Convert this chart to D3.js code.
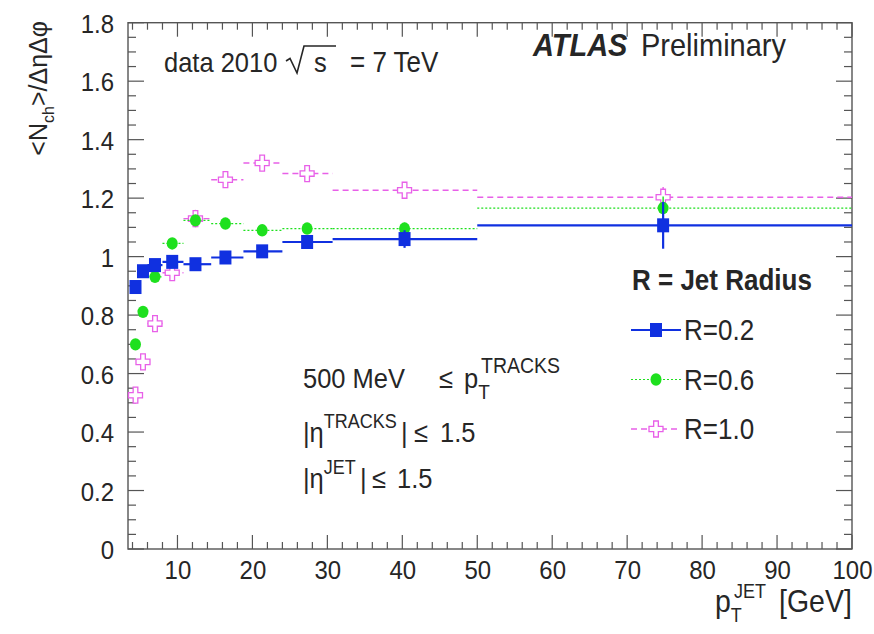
<!DOCTYPE html>
<html>
<head>
<meta charset="utf-8">
<script src="https://cdn.jsdelivr.net/npm/d3@7"></script>
<style>
  html, body { margin: 0; padding: 0; background: #fff; }
  svg text { font-family: "Liberation Sans", Arial, Helvetica, sans-serif; fill: #262626; }
</style>
</head>
<body>
<svg id="chart" width="874" height="634"></svg>
<script>
// ---- data ----
const xCenters = [4.4, 5.4, 7.0, 9.3, 12.4, 16.4, 21.3, 27.3, 40.3, 74.8];
const binLow   = [4.0, 5.0, 6.0, 8.0, 10.8, 14.5, 18.8, 24.0, 30.7, 50.0];
const binHigh  = [5.0, 6.0, 8.0, 10.8, 14.5, 18.8, 24.0, 30.7, 50.0, 100.0];

const seriesNames = ["R=0.2", "R=0.6", "R=1.0"];
const r02Values = [0.896, 0.950, 0.971, 0.982, 0.974, 0.997, 1.018, 1.050, 1.060, 1.107];
const r06Values = [0.700, 0.811, 0.931, 1.045, 1.124, 1.113, 1.090, 1.096, 1.096, 1.166];
const r10Values = [0.526, 0.640, 0.771, 0.945, 1.130, 1.263, 1.320, 1.284, 1.227, 1.203];
const r02Errors = [0.01, 0.01, 0.01, 0.01, 0.01, 0.01, 0.01, 0.015, 0.03, 0.08];
const r06Errors = [0.01, 0.01, 0.01, 0.01, 0.015, 0.01, 0.01, 0.01, 0.02, 0.04];
const r10Errors = [0.01, 0.01, 0.01, 0.015, 0.03, 0.015, 0.015, 0.015, 0.02, 0.035];

const xTickLabels = [10, 20, 30, 40, 50, 60, 70, 80, 90, 100];
const yTickLabels = [0, 0.2, 0.4, 0.6, 0.8, 1, 1.2, 1.4, 1.6, 1.8];

// ---- layout ----
const svg = d3.select("#chart");
const L = 128, R = 852, T = 22.7, B = 549;
const S = 1.1; // vertical stretch of the reference picture
const x = d3.scaleLinear().domain([3.4, 100]).range([L, R]);
const y = d3.scaleLinear().domain([0, 1.8]).range([B, T]);
const axisColor = "#555";
const textColor = "#262626";

function txt(px, py, size, opts = {}) {
  const t = svg.append("text")
    .attr("transform", `translate(${px},${py}) scale(1,${S})`)
    .style("font-size", size + "px");
  if (opts.anchor) t.attr("text-anchor", opts.anchor);
  if (opts.bold) t.style("font-weight", "bold");
  if (opts.italic) t.style("font-style", "italic");
  return t;
}

// frame
svg.append("rect").attr("x", L).attr("y", T).attr("width", R - L).attr("height", B - T)
  .attr("fill", "none").attr("stroke", axisColor).attr("stroke-width", 1.4);

// ticks
const xMinor = d3.range(4, 100.01, 2);
const yMinor = d3.range(0, 1.8001, 0.05);
const tickG = svg.append("g").attr("stroke", axisColor).attr("stroke-width", 1.2);
xMinor.forEach(v => {
  const major = Math.abs(v / 10 - Math.round(v / 10)) < 1e-6;
  const len = major ? 14 : 7;
  tickG.append("line").attr("x1", x(v)).attr("x2", x(v)).attr("y1", B).attr("y2", B - len);
  tickG.append("line").attr("x1", x(v)).attr("x2", x(v)).attr("y1", T).attr("y2", T + len);
});
yMinor.forEach(v => {
  const major = Math.abs(v / 0.2 - Math.round(v / 0.2)) < 1e-6;
  const len = major ? 16 : 8;
  tickG.append("line").attr("x1", L).attr("x2", L + len).attr("y1", y(v)).attr("y2", y(v));
  tickG.append("line").attr("x1", R).attr("x2", R - len).attr("y1", y(v)).attr("y2", y(v));
});

// tick labels via d3 axes (axis lines removed; frame ticks drawn above)
const xAxis = svg.append("g").attr("transform", `translate(0,${B})`)
  .call(d3.axisBottom(x).tickValues(xTickLabels).tickSize(0).tickPadding(10).tickFormat(d3.format("d")));
const yAxis = svg.append("g").attr("transform", `translate(${L},0)`)
  .call(d3.axisLeft(y).tickValues(yTickLabels).tickSize(0).tickPadding(14)
    .tickFormat(d => d === 0 ? "0" : (d === 1 ? "1" : d3.format(".1f")(d))));
[xAxis, yAxis].forEach(g => {
  g.select(".domain").remove();
  g.selectAll("text").style("font-size", "24px").attr("fill", textColor);
});
xAxis.selectAll("text").attr("transform", `scale(1,${S})`);
yAxis.selectAll("text").attr("transform", `scale(1,${S})`).attr("dy", "0.36em");

// ---- data drawing ----
const series = [
  { name: seriesNames[2], vals: r10Values, errs: r10Errors, color: "#e860e8", dash: "6,4", width: 1.4, marker: "cross" },
  { name: seriesNames[1], vals: r06Values, errs: r06Errors, color: "#1ee01e", dash: "2,2", width: 1.2, marker: "circle" },
  { name: seriesNames[0], vals: r02Values, errs: r02Errors, color: "#1030e0", dash: null, width: 2.2, marker: "square" }
];

function crossPath(w, h) {
  const a = w / 2, b = w / 6, c = h / 2, d = h / 6;
  return `M${-b},${-c}H${b}V${-d}H${a}V${d}H${b}V${c}H${-b}V${d}H${-a}V${-d}H${-b}Z`;
}
function drawMarker(g, m, cx, cy, color) {
  if (m === "square") {
    g.append("rect").attr("x", cx - 6).attr("y", cy - 7).attr("width", 12).attr("height", 14).attr("fill", color);
  } else if (m === "circle") {
    g.append("ellipse").attr("cx", cx).attr("cy", cy).attr("rx", 5.5).attr("ry", 6.2).attr("fill", color);
  } else {
    g.append("path").attr("d", crossPath(14, 16)).attr("transform", `translate(${cx},${cy})`)
      .attr("fill", "#fff").attr("stroke", color).attr("stroke-width", 1.3);
  }
}

series.forEach(s => {
  const g = svg.append("g");
  s.vals.forEach((v, i) => {
    g.append("line").attr("x1", x(binLow[i])).attr("x2", x(binHigh[i]))
      .attr("y1", y(v)).attr("y2", y(v)).attr("stroke", s.color).attr("stroke-width", s.width)
      .attr("stroke-dasharray", s.dash);
    g.append("line").attr("x1", x(xCenters[i])).attr("x2", x(xCenters[i]))
      .attr("y1", y(v - s.errs[i])).attr("y2", y(v + s.errs[i])).attr("stroke", s.color)
      .attr("stroke-width", Math.max(1.4, s.width));
  });
  s.vals.forEach((v, i) => drawMarker(g, s.marker, x(xCenters[i]), y(v), s.color));
});

// ---- legend ----
txt(632, 290, 26, { bold: true }).text("R = Jet Radius");
const legendRows = [series[2], series[1], series[0]];
legendRows.forEach((s, i) => {
  const cy = 330 + i * 49.5;
  const g = svg.append("g");
  g.append("line").attr("x1", 631).attr("x2", 681).attr("y1", cy).attr("y2", cy)
    .attr("stroke", s.color).attr("stroke-width", s.width).attr("stroke-dasharray", s.dash);
  drawMarker(g, s.marker, 656, cy, s.color);
  txt(684, cy + 10, 26).text(s.name);
});

// ---- header texts ----
txt(164, 72, 25.5).text("data 2010");
// square-root sign drawn as in ROOT's #sqrt
svg.append("path").attr("d", "M286,61 L290,58.5 L297,73 L304,46 L336,46")
  .attr("fill", "none").attr("stroke", textColor).attr("stroke-width", 1.6);
txt(314, 72, 25.5).text("s");
txt(350, 72, 26).text("= 7 TeV");

txt(533, 56, 29, { bold: true, italic: true }).text("ATLAS");
txt(641, 56, 29).text("Preliminary");

// ---- selection annotations ----
const a1 = txt(303, 388, 25.5);
a1.append("tspan").text("500 MeV");
a1.append("tspan").attr("x", 136).text("\u2264");
a1.append("tspan").attr("x", 161).text("p");
a1.append("tspan").attr("dy", 10).style("font-size", "19px").text("T");
a1.append("tspan").attr("x", 178).attr("dy", -24).style("font-size", "19.5px").text("TRACKS");

const a2 = txt(303, 442, 25.5);
a2.append("tspan").text("|\u03B7");
a2.append("tspan").attr("dy", -13).style("font-size", "18px").text("TRACKS");
a2.append("tspan").attr("x", 98).attr("dy", 13).text("|");
a2.append("tspan").attr("x", 111).text("\u2264");
a2.append("tspan").attr("x", 137).text("1.5");

const a3 = txt(303, 488, 25.5);
a3.append("tspan").text("|\u03B7");
a3.append("tspan").attr("dy", -13).style("font-size", "18px").text("JET");
a3.append("tspan").attr("x", 57).attr("dy", 13).text("|");
a3.append("tspan").attr("x", 69).text("\u2264");
a3.append("tspan").attr("x", 94).text("1.5");

// ---- axis titles ----
const xt = txt(715, 612, 28.5);
xt.append("tspan").text("p");
xt.append("tspan").attr("dy", 9).style("font-size", "18px").text("T");
xt.append("tspan").attr("x", 19).attr("dy", -22).style("font-size", "18px").text("JET");
xt.append("tspan").attr("x", 64).attr("dy", 13).text("[GeV]");

const yt = svg.append("text").attr("transform", "translate(47,21) rotate(-90)")
  .attr("text-anchor", "end").style("font-size", "25px");
yt.append("tspan").text("<N");
yt.append("tspan").attr("dy", 7).style("font-size", "16px").text("ch");
yt.append("tspan").attr("dy", -7).text(">/\u0394\u03B7\u0394\u03C6");
</script>
</body>
</html>
